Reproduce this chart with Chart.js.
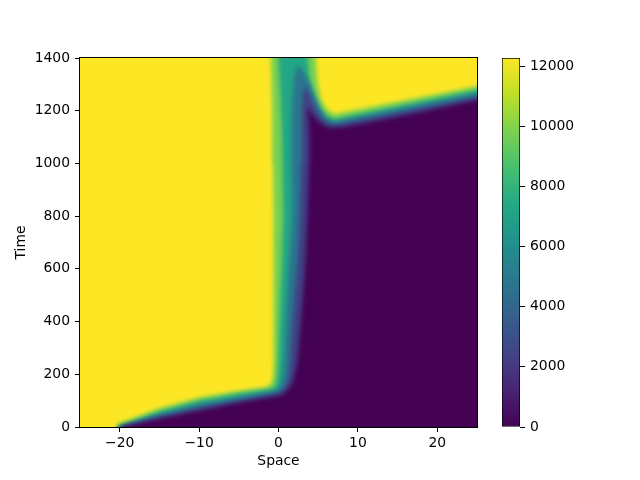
<!DOCTYPE html>
<html>
<head>
<meta charset="utf-8">
<title>Space / time heatmap</title>
<script src="https://cdn.jsdelivr.net/npm/chart.js"></script>
<style>
  body { margin: 0; background: #fff; }
  #wrap { position: relative; width: 640px; height: 480px; }
  #wrap canvas { position: absolute; left: 0; top: 0; }
</style>
</head>
<body>
<div id="wrap">
  <canvas id="heat" width="640" height="480"></canvas>
  <canvas id="cbar" width="640" height="480"></canvas>
</div>
<script>
// axis ticks
var xTicks = [-20, -10, 0, 10, 20];
var yTicks = [0, 200, 400, 600, 800, 1000, 1200, 1400];
var cbarTicks = [0, 2000, 4000, 6000, 8000, 10000, 12000];
var cbarMax = 12270;

// iso-lines, [space, time] pairs.
// each one walks from below the plot, up the front, then right along the upper front
var iso1000 = [[-30, -100], [-19.7, -100], [-19.7, 0], [-15, 31], [-10, 62], [-5, 92], [-1, 113], [0, 118],
  [0.6, 126], [1.3, 145], [1.9, 178], [2.4, 250], [2.75, 370], [3.1, 500], [3.35, 600], [3.65, 800],
  [3.85, 1000], [3.9, 1100], [3.8, 1170], [3.6, 1205], [3.8, 1210], [4.1, 1190], [5.1, 1157],
  [6, 1140], [6.8, 1134], [8.3, 1138], [14, 1170], [25, 1240], [30, 1270], [29, -100], [31, -100]];
var iso3500 = [[-30, -100], [-20, -100], [-20, 0], [-15, 39], [-10, 73], [-5, 101], [-1, 123], [0, 129],
  [0.7, 146], [1.2, 175], [1.5, 250], [1.7, 370], [2.05, 500], [2.35, 600], [2.7, 800], [2.85, 1000],
  [2.95, 1150], [3.05, 1240], [3.2, 1290], [3.6, 1280], [4.2, 1240], [4.8, 1200], [5.5, 1170],
  [6.3, 1152], [7, 1145], [25, 1252], [30, 1282], [29, -100], [31, -100]];
var iso6000 = [[-30, -100], [-20.15, -100], [-20.15, 0], [-15, 48], [-10, 86], [-5, 113], [-1, 133],
  [-0.2, 141], [0.3, 160], [0.6, 200], [0.8, 300], [0.9, 370], [1.1, 500], [1.3, 600], [1.75, 800],
  [1.7, 1000], [1.65, 1150], [1.75, 1250], [2.0, 1330], [2.4, 1372], [3.2, 1345], [4.0, 1300],
  [4.6, 1255], [5.2, 1210], [6.0, 1172], [7, 1157], [25, 1265], [30, 1296], [29, -100], [31, -100]];
var iso8500 = [[-30, -100], [-20.25, -100], [-20.25, 0], [-15, 58], [-10, 99], [-5, 126], [-1, 143],
  [-0.4, 153], [-0.15, 185], [0.0, 250], [0.1, 370], [0.25, 500], [0.4, 600], [0.6, 800], [0.5, 1000],
  [0.4, 1150], [0.2, 1280], [0, 1400], [-0.1, 1500], [3.6, 1500], [3.65, 1400], [3.9, 1320],
  [4.3, 1265], [5.0, 1212], [6.0, 1180], [7, 1168], [25, 1278], [30, 1310], [29, -100], [31, -100]];
var iso11000 = [[-30, -100], [-20.4, -100], [-20.4, 0], [-20.2, 12], [-15, 71], [-10, 112], [-5, 137],
  [-1.5, 152], [-0.95, 163], [-0.7, 190], [-0.6, 260], [-0.6, 500], [-0.65, 800], [-0.7, 1000],
  [-0.8, 1200], [-0.95, 1400], [-1.0, 1500], [4.6, 1500], [4.7, 1400], [4.9, 1310], [5.3, 1250],
  [6.0, 1208], [7, 1188], [25, 1293], [30, 1323], [29, -100], [31, -100]];

// value filling the inside of each iso-line (everything outside the last one is the max)
var bandValues = [0, 2250, 4750, 7250, 9750];
var isoLines = [iso1000, iso3500, iso6000, iso8500, iso11000];

var viridisStops = ['#440154', '#482475', '#414487', '#355f8d', '#2a788e', '#21918c',
  '#22a884', '#44bf70', '#7ad151', '#bddf26', '#fde725'];

function viridis(t) {
  t = Math.max(0, Math.min(1, t));
  var f = t * (viridisStops.length - 1);
  var i = Math.min(Math.floor(f), viridisStops.length - 2);
  var k = f - i;
  var a = parseInt(viridisStops[i].slice(1), 16), b = parseInt(viridisStops[i + 1].slice(1), 16);
  var ch = [16, 8, 0].map(function (s) {
    var ca = (a >> s) & 255, cb = (b >> s) & 255;
    return Math.round(ca + (cb - ca) * k);
  });
  return 'rgb(' + ch.join(',') + ')';
}

function minus(v) { return v < 0 ? '\u2212' + Math.abs(v) : String(v); }

Chart.defaults.font.family = 'DejaVu Sans';
Chart.defaults.font.size = 13.9;
Chart.defaults.color = '#000';

var heatPlugin = {
  id: 'heat',
  beforeDatasetsDraw: function (chart) {
    var ctx = chart.ctx, a = chart.chartArea;
    ctx.save();
    ctx.fillStyle = viridis(1);
    ctx.fillRect(a.left, a.top, a.right - a.left, a.bottom - a.top);
    ctx.restore();
    ctx.filter = 'blur(2.2px)';
  },
  afterDatasetsDraw: function (chart) {
    chart.ctx.filter = 'none';
  },
  afterDraw: function (chart) {
    var ctx = chart.ctx, a = chart.chartArea;
    ctx.save();
    ctx.strokeStyle = '#000';
    ctx.lineWidth = 1;
    ctx.strokeRect(a.left - 0.5, a.top - 0.5, a.right - a.left + 1, a.bottom - a.top + 1);
    ctx.restore();
  }
};

var datasets = isoLines.map(function (pts, i) {
  return {
    data: pts.map(function (p) { return {x: p[0], y: p[1]}; }),
    backgroundColor: viridis(bandValues[i] / cbarMax),
    borderColor: 'rgba(0,0,0,0)',
    borderWidth: 0,
    pointRadius: 0,
    tension: 0,
    fill: 'shape'
  };
});

new Chart(document.getElementById('heat'), {
  type: 'line',
  data: { datasets: datasets },
  options: {
    responsive: false,
    animation: false,
    devicePixelRatio: 1,
    events: [],
    layout: { padding: { left: 0, right: 163, top: 58, bottom: 0 } },
    plugins: { legend: { display: false }, tooltip: { enabled: false } },
    scales: {
      x: {
        type: 'linear', min: -25, max: 25,
        afterFit: function (s) { s.height = 53; },
        afterBuildTicks: function (s) { s.ticks = xTicks.map(function (v) { return {value: v}; }); },
        grid: { drawOnChartArea: false, tickLength: 5, color: '#000' },
        border: { display: false },
        ticks: { padding: 3, maxRotation: 0, callback: function (v) { return minus(v); } },
        title: { display: true, text: 'Space', padding: { top: 0, bottom: 10 } }
      },
      y: {
        type: 'linear', min: 0, max: 1400,
        afterFit: function (s) { s.width = 80; },
        afterBuildTicks: function (s) { s.ticks = yTicks.map(function (v) { return {value: v}; }); },
        grid: { drawOnChartArea: false, tickLength: 5, color: '#000' },
        border: { display: false },
        ticks: { padding: 5, callback: function (v) { return String(v); } },
        title: { display: true, text: 'Time', padding: { top: 13, bottom: 0 } }
      }
    }
  },
  plugins: [heatPlugin]
});

new Chart(document.getElementById('cbar'), {
  type: 'bar',
  data: {
    labels: [''],
    datasets: [{
      data: [[0, cbarMax]],
      backgroundColor: function (c) {
        var a = c.chart.chartArea;
        if (!a) return viridis(0.5);
        var g = c.chart.ctx.createLinearGradient(0, a.bottom, 0, a.top);
        viridisStops.forEach(function (col, i) { g.addColorStop(i / (viridisStops.length - 1), col); });
        return g;
      },
      borderColor: '#000',
      borderWidth: 1,
      borderSkipped: false,
      barPercentage: 1,
      categoryPercentage: 1
    }]
  },
  options: {
    responsive: false,
    animation: false,
    devicePixelRatio: 1,
    events: [],
    layout: { padding: { left: 502, right: 0, top: 58, bottom: 53 } },
    plugins: { legend: { display: false }, tooltip: { enabled: false } },
    scales: {
      x: { display: false },
      y: {
        position: 'right', min: 0, max: cbarMax,
        afterFit: function (s) { s.width = 120; },
        afterBuildTicks: function (s) { s.ticks = cbarTicks.map(function (v) { return {value: v}; }); },
        grid: { drawOnChartArea: false, tickLength: 5, color: '#000' },
        border: { display: false },
        ticks: { padding: 5, callback: function (v) { return String(v); } }
      }
    }
  }
});
</script>
</body>
</html>
